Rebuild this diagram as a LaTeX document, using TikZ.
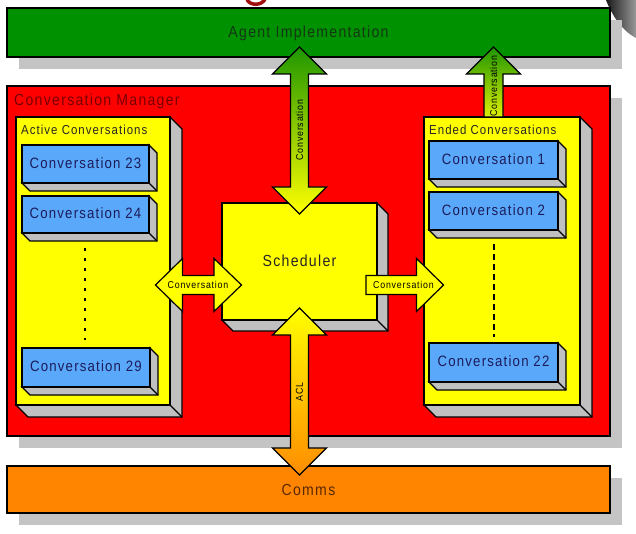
\documentclass[tikz,border=0pt]{standalone}
\usepackage{fontspec}
\setmainfont{Liberation Sans}
\newfontfamily\labfont[FakeStretch=0.88,LetterSpace=8]{Liberation Sans}
\usetikzlibrary{fit}
\definecolor{boxgreen}{RGB}{0,145,0}
\definecolor{boxred}{RGB}{255,0,0}
\definecolor{boxorange}{RGB}{255,133,0}
\definecolor{boxyellow}{RGB}{255,255,0}
\definecolor{convblue}{RGB}{90,168,250}
\definecolor{shadowgray}{RGB}{196,196,196}
\definecolor{sidegray}{RGB}{192,192,192}
\definecolor{agenttext}{RGB}{20,55,20}
\definecolor{mgrtext}{RGB}{120,0,0}
\definecolor{commstext}{RGB}{90,40,0}
\definecolor{convtext}{RGB}{28,28,90}
\definecolor{arrgreen}{RGB}{30,150,0}
\definecolor{arrorange}{RGB}{255,140,0}
\definecolor{titlered}{RGB}{160,16,16}
\newcommand\fsz[1]{\fontsize{#1}{#1}\selectfont}
% 3D box: name, x1, y1, x2, y2, depth, fill
\newcommand\boxthreed[7]{%
  \path[fill=sidegray, draw=black, line width=1.2pt] (#4,#3) -- (#4+#6,#3+#6) -- (#4+#6,#5+#6) -- (#2+#6,#5+#6) -- (#2,#5) -- (#4,#5) -- cycle;
  \draw[line width=1.2pt] (#4,#5) -- (#4+#6,#5+#6);
  \node[draw=black, line width=1.2pt, fill=#7, inner sep=0pt, outer sep=0pt, fit={(#2,#3) (#4,#5)}] (#1) {};
}
\begin{document}
\begin{tikzpicture}[x=1pt,y=-1pt,line join=miter,
  lbl/.style={font=\labfont\fsz{#1}, inner sep=0pt},
  flatbox/.style={draw=black, line width=1.2pt, inner sep=0pt, outer sep=0pt},
  blockarrow/.style={draw=black, line width=1.2pt},
  convlbl/.style={lbl=15, text=convtext, anchor=base}]
\useasboundingbox (0,0) rectangle (636,534);
\fill[white] (0,0) rectangle (636,534);

% decorative fragments at the top
\shade[left color=black!90, right color=black!40] (606,0) -- (636,0) -- (636,38) .. controls (624,32) and (613,18) .. (606,0) -- cycle;
\draw[titlered, line width=3.5pt] (247,-1) .. controls (249,6) and (262,6) .. (265,-1);

% layers
\fill[shadowgray] (19,20) rectangle (622,69);
\node[flatbox, fill=boxgreen, fit={(7,8) (610,57)}] (agent) {};
\node[lbl=16, text=agenttext, anchor=base] (agentlbl) at (308.5,37.5) {Agent Implementation};

\fill[shadowgray] (19,98) rectangle (622,448);
\node[flatbox, fill=boxred, fit={(7,86) (610,436)}] (mgr) {};
\node[lbl=16, text=mgrtext, anchor=base west] (mgrlbl) at (14,105.7) {Conversation Manager};

\fill[shadowgray] (19,478) rectangle (622,525);
\node[flatbox, fill=boxorange, fit={(7,466) (610,513)}] (comms) {};
\node[lbl=16, text=commstext, anchor=base] (commslbl) at (308.5,495) {Comms};

% active conversations
\boxthreed{active}{16}{117}{170}{405}{12}{boxyellow}
\node[lbl=13, text=black!85, anchor=base west] (activelbl) at (21,134.3) {Active Conversations};
\boxthreed{c23}{22}{145}{149}{183}{8}{convblue}
\node[convlbl] (c23lbl) at (85.5,168.5) {Conversation 23};
\boxthreed{c24}{22}{196}{149}{233}{8}{convblue}
\node[convlbl] (c24lbl) at (85.5,218.8) {Conversation 24};
\boxthreed{c29}{22}{348}{150}{387}{8}{convblue}
\node[convlbl] (c29lbl) at (86,371) {Conversation 29};
\draw[line width=2.7pt, dash pattern=on 3pt off 7pt] (85,248) coordinate (ad1) -- (85,340) coordinate (ad2);

% ended conversations
\boxthreed{ended}{424}{117}{580}{405}{12}{boxyellow}
\node[lbl=13, text=black!85, anchor=base west] (endedlbl) at (429,134.3) {Ended Conversations};
\boxthreed{c1}{429}{141}{558}{179}{8}{convblue}
\node[convlbl] (c1lbl) at (493.5,164.3) {Conversation 1};
\boxthreed{c2}{429}{192}{558}{230}{8}{convblue}
\node[convlbl] (c2lbl) at (493.5,215.3) {Conversation 2};
\boxthreed{c22}{429}{343}{558}{382}{8}{convblue}
\node[convlbl] (c22lbl) at (493.5,366.8) {Conversation 22};
\draw[line width=2pt, dash pattern=on 6pt off 4pt] (494,244) coordinate (ed1) -- (494,337) coordinate (ed2);

% scheduler
\boxthreed{sched}{222}{203}{377}{320}{11}{boxyellow}
\node[lbl=16, text=black!85, anchor=base] (schedlbl) at (299.5,266) {Scheduler};

% block arrows
\path[blockarrow, top color=arrgreen, bottom color=boxyellow]
  (299.5,47) -- (326.5,74) -- (308.5,74) -- (308.5,187) -- (326.5,187) -- (299.5,214)
  -- (272.5,187) -- (290.5,187) -- (290.5,74) -- (272.5,74) -- cycle;
\node[lbl=10, rotate=90] (convup) at (299.5,130) {Conversation};

\path[blockarrow, top color=arrgreen, bottom color=boxyellow!85!arrgreen]
  (493.5,47) -- (520.5,74) -- (503,74) -- (503,117) -- (484,117) -- (484,74) -- (466.5,74) -- cycle;
\node[lbl=10, rotate=90] (convend) at (493.5,86) {Conversation};

\path[blockarrow, top color=boxyellow, bottom color=arrorange]
  (299.5,308) -- (326.5,335) -- (308.5,335) -- (308.5,448) -- (326.5,448) -- (299.5,475)
  -- (272.5,448) -- (290.5,448) -- (290.5,335) -- (272.5,335) -- cycle;
\node[lbl=10, rotate=90] (acl) at (299.5,392) {ACL};

\path[blockarrow, fill=boxyellow]
  (155.5,285) -- (182.5,258.5) -- (182.5,275.5) -- (214,275.5) -- (214,258.5) -- (241.5,285)
  -- (214,311.5) -- (214,294.5) -- (182.5,294.5) -- (182.5,311.5) -- cycle;
\node[lbl=10] (convleft) at (198,285) {Conversation};

\path[blockarrow, fill=boxyellow]
  (366,275.5) -- (416.5,275.5) -- (416.5,258.5) -- (443.5,285) -- (416.5,311.5) -- (416.5,294.5) -- (366,294.5) -- cycle;
\node[lbl=10] (convright) at (403.5,285) {Conversation};
\end{tikzpicture}
\end{document}
